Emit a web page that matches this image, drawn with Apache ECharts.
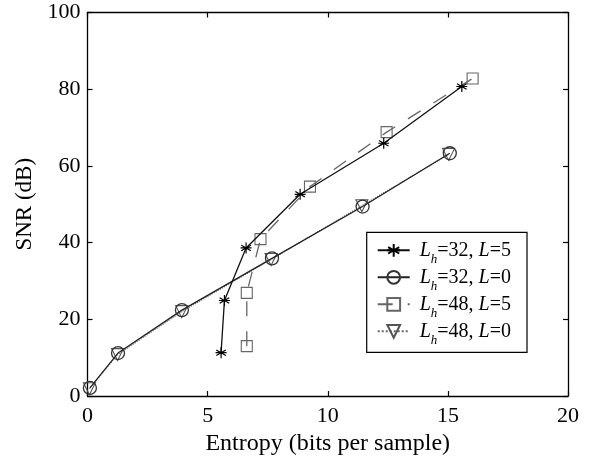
<!DOCTYPE html>
<html>
<head>
<meta charset="utf-8">
<script src="https://cdn.jsdelivr.net/npm/echarts@6/dist/echarts.min.js"></script>
<style>
html,body{margin:0;padding:0;background:#fff;}
#c{width:593px;height:461px;}
</style>
</head>
<body>
<div id="c"></div>
<script>
// ---- data ----
var xTicks = [0, 5, 10, 15, 20];
var yTicks = [0, 20, 40, 60, 80, 100];
var seriesNames = ['Lh=32, L=5', 'Lh=32, L=0', 'Lh=48, L=5', 'Lh=48, L=0'];
var legendLh = ['32', '32', '48', '48'];
var legendL = ['5', '0', '5', '0'];

var starX = [5.56, 5.70, 6.60, 8.85, 12.33, 15.58];
var starY = [11.3, 24.9, 38.6, 52.6, 65.9, 80.7];
var circleX = [0.10, 1.27, 3.93, 7.68, 11.45, 15.08];
var circleY = [2.1, 11.2, 22.4, 35.9, 49.4, 63.3];
var squareX = [6.63, 6.63, 7.20, 9.26, 12.45, 16.03];
var squareY = [13.0, 26.9, 40.9, 54.6, 68.8, 82.8];
var triX = [0.08, 1.25, 3.92, 7.64, 11.42, 15.03];
var triY = [1.9, 10.8, 22.0, 35.6, 49.6, 63.0];

function pairs(xs, ys) { return xs.map(function (x, i) { return [x, ys[i]]; }); }

var FONT = 'Liberation Serif';
var STAR = 'path://M0,-1L0,1M-0.866,-0.5L0.866,0.5M-0.866,0.5L0.866,-0.5M-1,0L1,0';
var TRI_DOWN = 'path://M0,0L10,0L5,8.66Z';

var chart = echarts.init(document.getElementById('c'), null, {renderer: 'canvas'});

var axisLineStyle = {color: '#000', width: 1.3};

var option = {
  backgroundColor: '#fff',
  animation: false,
  grid: {left: 87.5, right: 25, top: 12.5, bottom: 64.5, containLabel: false},
  xAxis: [{
    type: 'value', min: 0, max: 20, interval: 5, position: 'bottom',
    name: 'Entropy (bits per sample)', nameLocation: 'middle', nameGap: 36,
    nameTextStyle: {fontFamily: FONT, fontSize: 24, color: '#000'},
    axisLine: {show: true, onZero: false, lineStyle: axisLineStyle},
    axisTick: {show: true, inside: true, length: 5, lineStyle: {color: '#000', width: 1.2}},
    axisLabel: {fontFamily: FONT, fontSize: 22, color: '#000', margin: 9,
      formatter: function (v) { return xTicks.indexOf(v) >= 0 ? String(v) : ''; }},
    splitLine: {show: false}
  }, {
    type: 'value', min: 0, max: 20, interval: 5, position: 'top',
    axisLine: {show: true, onZero: false, lineStyle: axisLineStyle},
    axisTick: {show: true, inside: true, length: 5, lineStyle: {color: '#000', width: 1.2}},
    axisLabel: {show: false}, splitLine: {show: false}
  }],
  yAxis: [{
    type: 'value', min: 0, max: 100, interval: 20, position: 'left',
    name: 'SNR (dB)', nameLocation: 'middle', nameGap: 50,
    nameTextStyle: {fontFamily: FONT, fontSize: 23, color: '#000'},
    axisLine: {show: true, onZero: false, lineStyle: axisLineStyle},
    axisTick: {show: true, inside: true, length: 5, lineStyle: {color: '#000', width: 1.2}},
    axisLabel: {fontFamily: FONT, fontSize: 22, color: '#000', margin: 7,
      formatter: function (v) { return yTicks.indexOf(v) >= 0 ? String(v) : ''; }},
    splitLine: {show: false}
  }, {
    type: 'value', min: 0, max: 100, interval: 20, position: 'right',
    axisLine: {show: true, onZero: false, lineStyle: axisLineStyle},
    axisTick: {show: true, inside: true, length: 5, lineStyle: {color: '#000', width: 1.2}},
    axisLabel: {show: false}, splitLine: {show: false}
  }],
  legend: {
    show: true,
    orient: 'vertical',
    left: 366.7, top: 232.3,
    selectedMode: false,
    data: seriesNames,
    backgroundColor: '#fff',
    borderColor: '#000', borderWidth: 1.2, borderRadius: 0,
    padding: [8, 16, 5, 10],
    itemWidth: 32, itemHeight: 16, itemGap: 1,
    formatter: function (name) {
      var i = seriesNames.indexOf(name);
      return '{i0|L}{s|h}{n|=' + legendLh[i] + ', }{i|L}{n|=' + legendL[i] + '}';
    },
    textStyle: {
      fontFamily: FONT, fontSize: 20, color: '#000',
      rich: {
        i0: {fontFamily: FONT, fontSize: 20, fontStyle: 'italic', color: '#000', padding: [0, 0, 0, 5]},
        i: {fontFamily: FONT, fontSize: 20, fontStyle: 'italic', color: '#000'},
        n: {fontFamily: FONT, fontSize: 20, color: '#000'},
        s: {fontFamily: FONT, fontSize: 13, fontStyle: 'italic', color: '#000', padding: [19, 0, 0, 0]}
      }
    }
  },
  series: [
    {
      name: seriesNames[3], type: 'line', xAxisIndex: 0, yAxisIndex: 0,
      data: pairs(triX, triY),
      symbol: TRI_DOWN, symbolSize: 12,
      itemStyle: {color: 'rgba(255,255,255,0)', borderColor: '#555', borderWidth: 1.1},
      lineStyle: {color: '#666', width: 1.2, type: 'dotted'},
      z: 2
    },
    {
      name: seriesNames[2], type: 'line', xAxisIndex: 0, yAxisIndex: 0,
      data: pairs(squareX, squareY),
      symbol: 'rect', symbolSize: 11,
      itemStyle: {color: 'rgba(255,255,255,0)', borderColor: '#666', borderWidth: 1.1},
      lineStyle: {color: '#666', width: 1.3, type: [15, 15]},
      z: 2
    },
    {
      name: seriesNames[1], type: 'line', xAxisIndex: 0, yAxisIndex: 0,
      data: pairs(circleX, circleY),
      symbol: 'circle', symbolSize: 13,
      itemStyle: {color: 'rgba(255,255,255,0)', borderColor: '#333', borderWidth: 1.3},
      lineStyle: {color: '#222', width: 1.3},
      z: 3
    },
    {
      name: seriesNames[0], type: 'line', xAxisIndex: 0, yAxisIndex: 0,
      data: pairs(starX, starY),
      symbol: STAR, symbolSize: 11,
      itemStyle: {color: '#000', borderColor: '#000', borderWidth: 1.2},
      lineStyle: {color: '#111', width: 1.3},
      z: 4
    }
  ]
};
chart.setOption(option);
</script>
</body>
</html>
